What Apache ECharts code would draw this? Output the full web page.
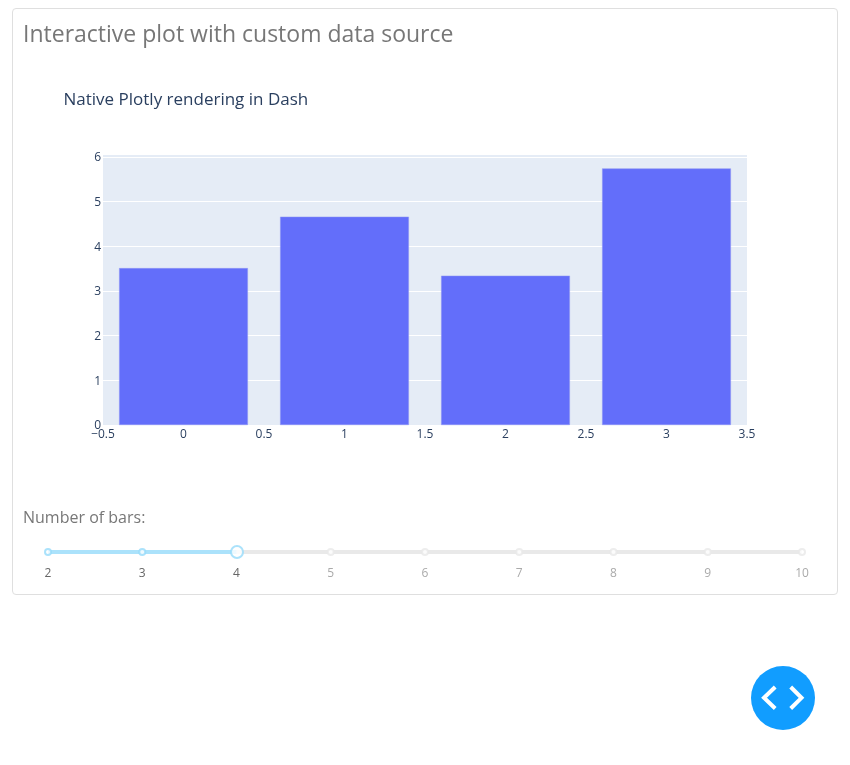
<!DOCTYPE html>
<html>
<head>
<meta charset="utf-8">
<style>
html,body{margin:0;padding:0;background:#fff;width:850px;height:765px;overflow:hidden}
#card{position:absolute;left:12px;top:8px;width:824px;height:585px;border:1px solid #dfdfdf;border-radius:4px}
#chart{position:absolute;left:0;top:0;width:850px;height:765px}
#fab{position:absolute;left:751px;top:666px;width:64px;height:64px;border-radius:50%;background:#119dff}
</style>
</head>
<body>
<div id="card"></div>
<div id="chart"></div>
<div id="fab"><svg width="64" height="64" viewBox="0 0 64 64"><path d="M24.200 21 L13 31.800 L24.200 42.500 M39.700 21 L50.500 31.800 L39.700 42.500" fill="none" stroke="#fff" stroke-width="4"/></svg></div>
<script src="https://cdn.jsdelivr.net/npm/echarts@6/dist/echarts.min.js"></script>
<script>
const barX = [0, 1, 2, 3];
const barValues = [3.51, 4.66, 3.34, 5.74];
const yTicks = [0, 1, 2, 3, 4, 5, 6];
const sliderMarks = [2, 3, 4, 5, 6, 7, 8, 9, 10];
const sliderValue = 4;
const pageTitle = 'Interactive plot with custom data source';
const plotTitle = 'Native Plotly rendering in Dash';
const sliderLabel = 'Number of bars:';

const font = '"Open Sans", sans-serif';
const ink = '#2a3f5f', muted = '#777777';
const trackOff = '#e9e9e9', trackOn = '#abe2fb', handleOn = '#96dbfa';

const chart = echarts.init(document.getElementById('chart'), null, {renderer: 'canvas'});
chart.setOption({
  animation: false,
  textStyle: {fontFamily: font},
  title: [
    {text: pageTitle, left: 18, top: 19, textStyle: {fontFamily: font, fontSize: 23, fontWeight: 'normal', color: muted}},
    {text: plotTitle, left: 58.500, top: 87, textStyle: {fontFamily: font, fontSize: 17, fontWeight: 'normal', color: ink}},
    {text: sliderLabel, left: 18, top: 505, textStyle: {fontFamily: font, fontSize: 16, fontWeight: 'normal', color: muted}}
  ],
  grid: [
    {left: 103, top: 155, width: 644, height: 270, show: true, backgroundColor: '#e5ecf6', borderWidth: 0},
    {left: 48, top: 532, width: 754, height: 40, show: false}
  ],
  xAxis: [
    {
      type: 'value', gridIndex: 0, min: -0.5, max: 3.5, interval: 0.5,
      axisLine: {show: false}, axisTick: {show: false}, splitLine: {show: false},
      axisLabel: {
        color: ink, fontSize: 12, fontFamily: font, margin: 4,
        showMinLabel: true, showMaxLabel: true, hideOverlap: false,
        formatter: v => String(v).replace('-', '\u2212')
      }
    },
    {
      type: 'value', gridIndex: 1, min: 2, max: 10, interval: 1,
      axisLine: {show: false}, axisTick: {show: false}, splitLine: {show: false},
      axisLabel: {
        fontSize: 12, fontFamily: font, margin: -4, showMinLabel: true, showMaxLabel: true,
        color: v => (v <= sliderValue ? '#666666' : '#aaaaaa')
      }
    }
  ],
  yAxis: [
    {
      type: 'value', gridIndex: 0, min: 0, max: 6.04,
      axisLine: {show: false},
      splitLine: {show: true, lineStyle: {color: '#ffffff', width: 1}},
      axisLabel: {
        margin: 2, customValues: yTicks,
        formatter: v => '{t|' + v + '}',
        rich: {t: {color: ink, fontSize: 12, fontFamily: font, padding: [2, 0, 0, 0]}}
      },
      axisTick: {show: false, customValues: yTicks}
    },
    {type: 'value', gridIndex: 1, min: 0, max: 1, show: false}
  ],
  series: [
    {
      type: 'bar', xAxisIndex: 0, yAxisIndex: 0, barWidth: '80%',
      data: barX.map((x, i) => [x, barValues[i]]),
      itemStyle: {color: '#636efa', borderColor: '#8e96f5', borderWidth: 0.5},
      z: 3
    },
    {
      type: 'line', xAxisIndex: 1, yAxisIndex: 1, symbol: 'none', silent: true, z: 2,
      lineStyle: {color: trackOff, width: 4},
      data: [[sliderMarks[0], 0.5], [sliderMarks[sliderMarks.length - 1], 0.5]]
    },
    {
      type: 'line', xAxisIndex: 1, yAxisIndex: 1, symbol: 'none', silent: true, z: 3,
      lineStyle: {color: trackOn, width: 4},
      data: [[sliderMarks[0], 0.5], [sliderValue, 0.5]]
    },
    {
      type: 'scatter', xAxisIndex: 1, yAxisIndex: 1, symbolSize: 6, silent: true, z: 4,
      data: sliderMarks.filter(m => m !== sliderValue).map(m => ({
        value: [m, 0.5],
        itemStyle: {color: '#fff', borderWidth: 2, borderColor: m < sliderValue ? handleOn : trackOff}
      }))
    },
    {
      type: 'scatter', xAxisIndex: 1, yAxisIndex: 1, symbolSize: 12, symbolOffset: [0.5, 0], silent: true, z: 5,
      data: [[sliderValue, 0.5]],
      itemStyle: {color: '#fff', borderWidth: 2, borderColor: handleOn}
    }
  ]
});
</script>
</body>
</html>
